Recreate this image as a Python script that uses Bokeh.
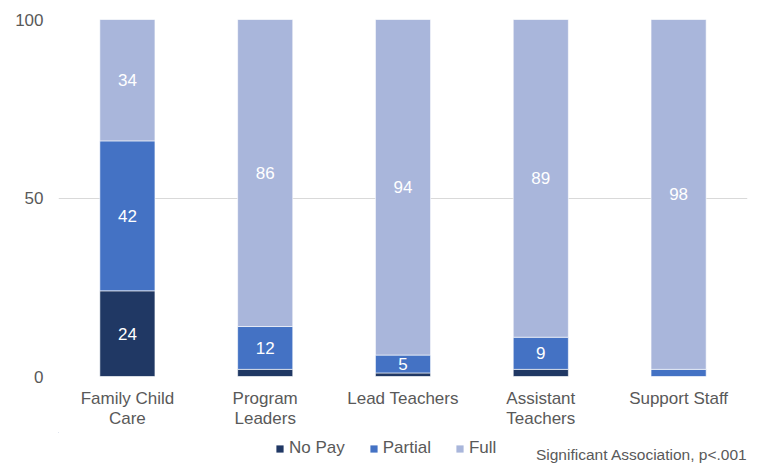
from bokeh.plotting import figure
from bokeh.models import (ColumnDataSource, LabelSet, Label, Legend, LegendItem,
                          FixedTicker, Range1d, LinearAxis)
from bokeh.layouts import column
from bokeh.core.properties import value
from bokeh.embed import file_html
from bokeh.resources import INLINE

categories = ["Family Child Care", "Program Leaders", "Lead Teachers", "Assistant Teachers", "Support Staff"]
tick_line1 = ["Family Child", "Program", "Lead Teachers", "Assistant", "Support Staff"]
tick_line2 = ["Care", "Leaders", "", "Teachers", ""]
no_pay = [24, 2, 1, 2, 0]
partial = [42, 12, 5, 9, 2]
full = [34, 86, 94, 89, 98]
series = ["No Pay", "Partial", "Full"]
colors = ["#203864", "#4472C4", "#A9B6DB"]
y_ticks = [0, 50, 100]
note = "Significant Association, p<.001"

FONT = "Liberation Sans"
GREY = "#595959"

xpos = [i + 0.5 for i in range(len(categories))]
src = ColumnDataSource(dict(x=xpos, cat=categories, no_pay=no_pay, partial=partial, full=full))

p = figure(x_range=Range1d(0, len(categories)), y_range=Range1d(0, 100), width=769, height=432,
           output_backend="svg", toolbar_location=None, x_axis_type=None,
           min_border_left=58, min_border_right=22, min_border_top=19, min_border_bottom=56)

rs = p.vbar_stack(["no_pay", "partial", "full"], x="x", width=0.4, source=src,
                  color=colors, line_color="white", line_width=0.6)

# value labels (segments of 5 or more)
lx, ly, lt = [], [], []
for i, c in enumerate(categories):
    base = 0
    for vals in (no_pay, partial, full):
        v = vals[i]
        if v >= 5:
            lx.append(xpos[i]); ly.append(base + v / 2); lt.append(str(v))
        base += v
lsrc = ColumnDataSource(dict(x=lx, y=ly, t=lt))
p.add_layout(LabelSet(x="x", y="y", text="t", source=lsrc, text_color="white",
                      text_font=value(FONT), text_font_size="17px", text_align="center",
                      text_baseline="middle"))

p.xgrid.visible = False
p.ygrid.grid_line_color = "#D9D9D9"
p.ygrid.grid_line_width = 1
p.outline_line_color = None

p.yaxis.ticker = FixedTicker(ticks=y_ticks)

ax1 = LinearAxis(ticker=FixedTicker(ticks=xpos),
                 major_label_overrides={x: t for x, t in zip(xpos, tick_line1)})
ax2 = LinearAxis(ticker=FixedTicker(ticks=xpos),
                 major_label_overrides={x: t for x, t in zip(xpos, tick_line2)})
p.add_layout(ax1, "below")
p.add_layout(ax2, "below")

for ax in (ax1, ax2, p.yaxis[0]):
    ax.axis_line_color = None
    ax.major_tick_line_color = None
    ax.minor_tick_line_color = None
    ax.major_tick_out = 0
    ax.major_tick_in = 0
    ax.minor_tick_out = 0
    ax.minor_tick_in = 0
    ax.major_label_text_color = GREY
    ax.major_label_text_font = FONT
    ax.major_label_text_font_size = "17px"
p.yaxis.major_label_standoff = 15
ax1.major_label_standoff = 12
ax2.major_label_standoff = -2

# bottom strip: legend + note (frame is aligned with the main plot: 58..747 px)
p2 = figure(width=769, height=33, x_range=Range1d(58, 747), y_range=Range1d(0, 33),
            output_backend="svg", toolbar_location=None, x_axis_type=None, y_axis_type=None,
            min_border_left=58, min_border_right=22, min_border_top=0, min_border_bottom=0)
p2.grid.visible = False
p2.outline_line_color = None
dummies = [p2.vbar(x=[-5000], bottom=[5000], top=[5001], width=1,
                   fill_color=c, line_color=None) for c in colors]
legend = Legend(items=[LegendItem(label=s, renderers=[r]) for s, r in zip(series, dummies)],
                orientation="horizontal", location=(217, 7),
                glyph_width=9, glyph_height=9, label_height=20, label_text_font=FONT,
                label_text_font_size="17px", label_text_color=GREY,
                border_line_color=None, background_fill_alpha=0,
                spacing=24, label_standoff=5, padding=0, margin=0)
p2.add_layout(legend, "center")
p2.add_layout(Label(x=747, y=11, text=note, text_align="right", text_baseline="middle",
                    text_font=FONT, text_font_size="15.5px", text_color=GREY))

open("out.html", "w").write(file_html(column(p, p2, spacing=0), INLINE))
